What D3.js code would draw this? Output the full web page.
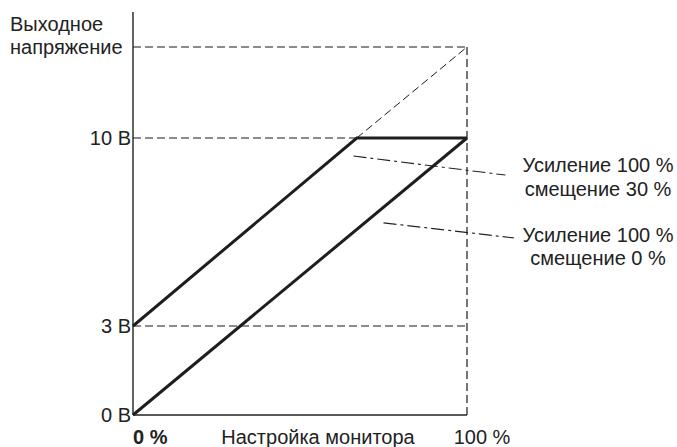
<!DOCTYPE html>
<html>
<head>
<meta charset="utf-8">
<script src="https://cdn.jsdelivr.net/npm/d3@7"></script>
<style>
  html, body { margin: 0; padding: 0; background: #fff; }
  svg { display: block; }
  text { font-family: "Liberation Sans Narrow", "Liberation Sans", sans-serif; fill: #222; }
</style>
</head>
<body>
<svg id="chart" width="677" height="447"></svg>
<script>
// Monitor setting (%) on x, output voltage (V) on y
const yTickValues = [0, 3, 10];
const yTickLabels = ["0 В", "3 В", "10 В"];
const yTopValue = 13;
const yTitle = ["Выходное", "напряжение"];
const xTickValues = [0, 100];
const xTickLabels = ["0 %", "100 %"];
const xTitle = "Настройка монитора";

// Gain 100 %, offset 0 %
const offset0X = [0, 100];
const offset0Y = [0, 10];
// Gain 100 %, offset 30 % (clipped at 10 V)
const offset30X = [0, 67, 100];
const offset30Y = [3, 10, 10];
// Unclipped continuation of the offset 30 % line
const extensionX = [67, 100];
const extensionY = [10, 13];

const seriesLabels = [
  ["Усиление 100 %", "смещение 30 %"],
  ["Усиление 100 %", "смещение 0 %"]
];
// Leader lines (start/end in data units)
const leaderX = [[66, 111.5], [75, 114]];
const leaderY = [[9.33, 8.62], [6.84, 6.28]];

const svg = d3.select("#chart");
const x = d3.scaleLinear().domain([0, 100]).range([133, 467]);
const y = d3.scaleLinear().domain([0, 3, 10, 13]).range([415, 326, 138, 47]);

const line = d3.line().x(d => x(d[0])).y(d => y(d[1]));
const pts = (xs, ys) => xs.map((v, i) => [v, ys[i]]);

// Dashed reference lines
const refs = svg.append("g").attr("stroke", "#1a1a1a").attr("stroke-width", 1.2)
  .attr("stroke-dasharray", "8,4").attr("fill", "none");
[3, 10, yTopValue].forEach(v => {
  refs.append("path").attr("d", line([[0, v], [100, v]]));
});
refs.append("path").attr("d", line([[100, 0], [100, yTopValue]]));
refs.append("path").attr("d", line(pts(extensionX, extensionY))).attr("stroke-width", 1);

// Axes
const axes = svg.append("g").attr("stroke", "#222").attr("stroke-width", 1.4).attr("fill", "none");
axes.append("line").attr("x1", x(0)).attr("x2", x(0)).attr("y1", y(0)).attr("y2", 12);
axes.append("line").attr("x1", x(0)).attr("x2", x(100)).attr("y1", y(0)).attr("y2", y(0));

// Characteristic lines
const series = svg.append("g").attr("stroke", "#1e1e1e").attr("stroke-width", 3)
  .attr("fill", "none").attr("stroke-linejoin", "miter");
series.append("path").attr("d", line(pts(offset0X, offset0Y)));
series.append("path").attr("d", line(pts(offset30X, offset30Y)));

// Leader lines (dash-dot)
const leaders = svg.append("g").attr("stroke", "#222").attr("stroke-width", 1.1)
  .attr("stroke-dasharray", "13,4,3,4").attr("fill", "none");
leaderX.forEach((lx, i) => {
  leaders.append("path").attr("d", line([[lx[0], leaderY[i][0]], [lx[1], leaderY[i][1]]]));
});

const fs = 20;
// Y tick labels
svg.append("g").selectAll("text").data(yTickValues).join("text")
  .attr("x", x(0) - 2).attr("y", d => y(d)).attr("dy", "0.35em")
  .attr("text-anchor", "end").attr("font-size", fs)
  .text((d, i) => yTickLabels[i]);

// Y title
svg.append("g").selectAll("text").data(yTitle).join("text")
  .attr("x", 10).attr("y", (d, i) => y(yTopValue) - 23 + i * 23).attr("dy", "0.35em")
  .attr("font-size", fs).text(d => d);

// X tick labels
svg.append("text").attr("x", x(0)).attr("y", 437).attr("dy", "0.35em")
  .attr("font-size", fs).attr("font-weight", "bold").text(xTickLabels[0]);
svg.append("text").attr("x", x(100) + 15).attr("y", 437).attr("dy", "0.35em")
  .attr("text-anchor", "middle").attr("font-size", fs).text(xTickLabels[1]);
svg.append("text").attr("x", 318).attr("y", 437).attr("dy", "0.35em")
  .attr("text-anchor", "middle").attr("font-size", fs).text(xTitle);

// Series labels
const labelY = [[165, 189], [235, 258]];
seriesLabels.forEach((lines, i) => {
  lines.forEach((t, j) => {
    svg.append("text").attr("x", 598).attr("y", labelY[i][j]).attr("dy", "0.35em")
      .attr("text-anchor", "middle").attr("font-size", fs).text(t);
  });
});
</script>
</body>
</html>
